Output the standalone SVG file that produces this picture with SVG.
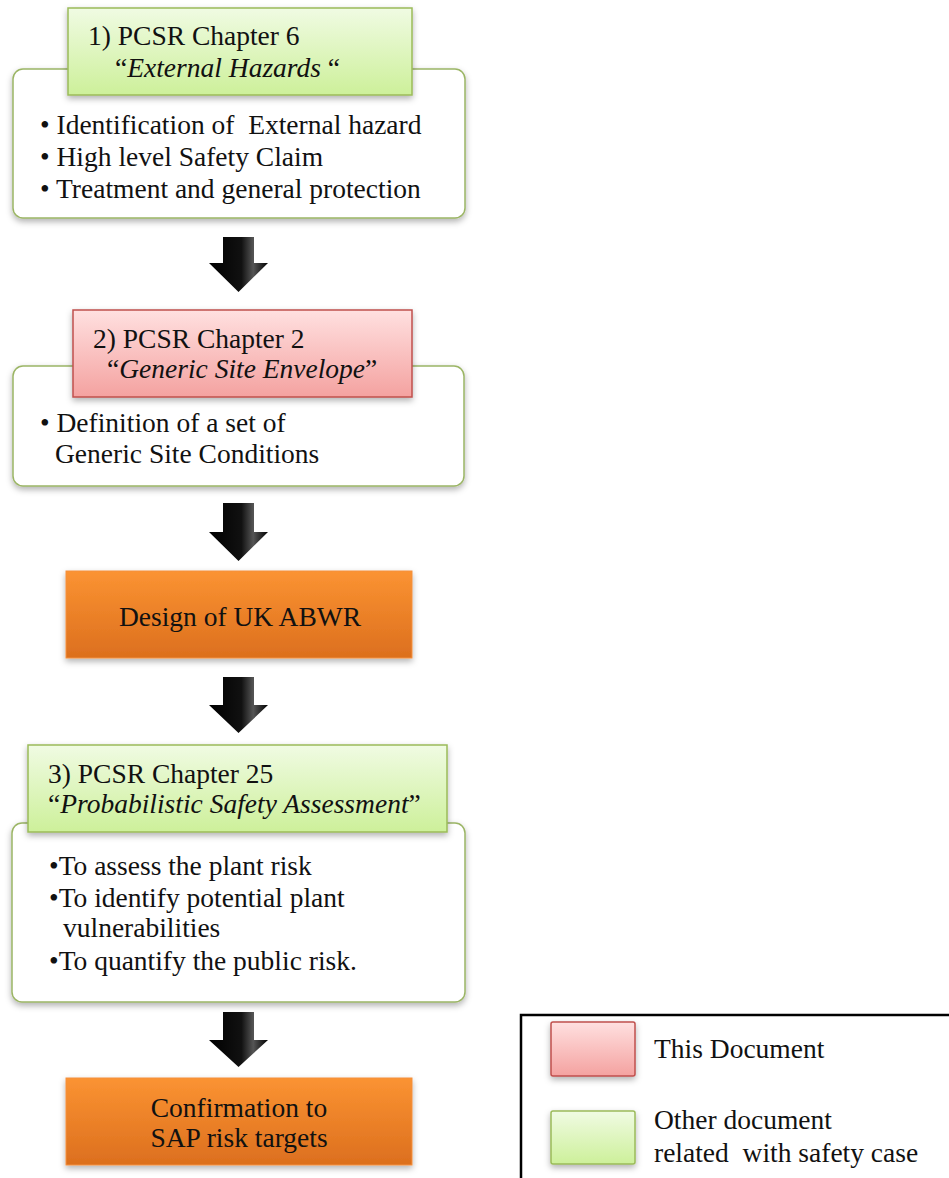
<svg xmlns="http://www.w3.org/2000/svg" width="949" height="1178" viewBox="0 0 949 1178" xml:space="preserve">
<style>
text{font-family:"Liberation Serif","Times New Roman",serif;fill:#111;white-space:pre;}
.t{font-size:27.5px;}
.i{font-style:italic;}
.outer{fill:#fff;stroke:#9bb565;stroke-width:1.5;}
.green{fill:url(#gG);stroke:#9bbb59;stroke-width:1.5;}
.red{fill:url(#gR);stroke:#c0504d;stroke-width:1.5;}
.orange{fill:url(#gO);stroke:#f3903c;stroke-width:1;}
.arrow{fill:url(#gA);}
</style>
<defs>
<linearGradient id="gG" x1="0" y1="0" x2="0" y2="1"><stop offset="0" stop-color="#f0fbe3"/><stop offset="1" stop-color="#cdf09a"/></linearGradient>
<linearGradient id="gR" x1="0" y1="0" x2="0" y2="1"><stop offset="0" stop-color="#ffe0e0"/><stop offset="1" stop-color="#f4a2a0"/></linearGradient>
<linearGradient id="gO" x1="0" y1="0" x2="0" y2="1"><stop offset="0" stop-color="#fb9332"/><stop offset="1" stop-color="#dc6f1e"/></linearGradient>
<linearGradient id="gA" x1="0" y1="0" x2="1" y2="0"><stop offset="0" stop-color="#000"/><stop offset="0.55" stop-color="#111"/><stop offset="0.75" stop-color="#555"/><stop offset="1" stop-color="#000"/></linearGradient>
<filter id="sh" x="-10%" y="-10%" width="120%" height="130%"><feDropShadow dx="0" dy="3" stdDeviation="3" flood-color="#000" flood-opacity="0.3"/></filter>
</defs>
<g id="connectors">
<path class="arrow" d="M223,237 H254 V263 H268 L238.5,292 L209,263 H223 Z"/>
<path class="arrow" d="M223,503 H254 V532 H268 L238.5,561 L209,532 H223 Z"/>
<path class="arrow" d="M223,677 H254 V705 H268 L238.5,733 L209,705 H223 Z"/>
<path class="arrow" d="M223,1012 H254 V1040 H268 L238.5,1067 L209,1040 H223 Z"/>
</g>
<g id="node1">
<rect class="outer" x="13" y="69" width="452" height="149" rx="10" filter="url(#sh)"/>
<rect class="green" x="68" y="8" width="344" height="87" filter="url(#sh)"/>
<text class="t" x="88" y="45">1) PCSR Chapter 6</text>
<text class="t" x="115" y="77">“<tspan class="i">External Hazards</tspan> “</text>
<text class="t" x="40" y="134">• Identification of  External hazard</text>
<text class="t" x="40" y="166">• High level Safety Claim</text>
<text class="t" x="40" y="198">• Treatment and general protection</text>
</g>
<g id="node2">
<rect class="outer" x="13" y="366" width="451" height="120" rx="10" filter="url(#sh)"/>
<rect class="red" x="73" y="310" width="339" height="87" filter="url(#sh)"/>
<text class="t" x="93" y="348">2) PCSR Chapter 2</text>
<text class="t" x="107" y="378">“<tspan class="i">Generic Site Envelope</tspan>”</text>
<text class="t" x="40" y="432">• Definition of a set of</text>
<text class="t" x="55" y="463">Generic Site Conditions</text>
</g>
<g id="node3">
<rect class="orange" x="66" y="571" width="346" height="87" filter="url(#sh)"/>
<text class="t" x="240" y="626" text-anchor="middle">Design of UK ABWR</text>
</g>
<g id="node4">
<rect class="outer" x="12" y="823" width="453" height="179" rx="10" filter="url(#sh)"/>
<rect class="green" x="28" y="745" width="419" height="87" filter="url(#sh)"/>
<text class="t" x="48" y="783">3) PCSR Chapter 25</text>
<text class="t" x="48" y="813">“<tspan class="i">Probabilistic Safety Assessment</tspan>”</text>
<text class="t" x="49" y="875">•To assess the plant risk</text>
<text class="t" x="49" y="907">•To identify potential plant</text>
<text class="t" x="63" y="937">vulnerabilities</text>
<text class="t" x="49" y="970">•To quantify the public risk.</text>
</g>
<g id="node5">
<rect class="orange" x="66" y="1078" width="346" height="87" filter="url(#sh)"/>
<text class="t" x="239" y="1117" text-anchor="middle">Confirmation to</text>
<text class="t" x="239" y="1147" text-anchor="middle">SAP risk targets</text>
</g>
<g id="legend">
<rect x="521" y="1015" width="440" height="200" fill="#fff" stroke="#000" stroke-width="2.5"/>
<rect class="red" x="551" y="1022" width="84" height="54" rx="2" filter="url(#sh)"/>
<text class="t" x="654" y="1058">This Document</text>
<rect class="green" x="551" y="1111" width="84" height="53" rx="2" filter="url(#sh)"/>
<text class="t" x="654" y="1129">Other document</text>
<text class="t" x="654" y="1162">related  with safety case</text>
</g>
</svg>
